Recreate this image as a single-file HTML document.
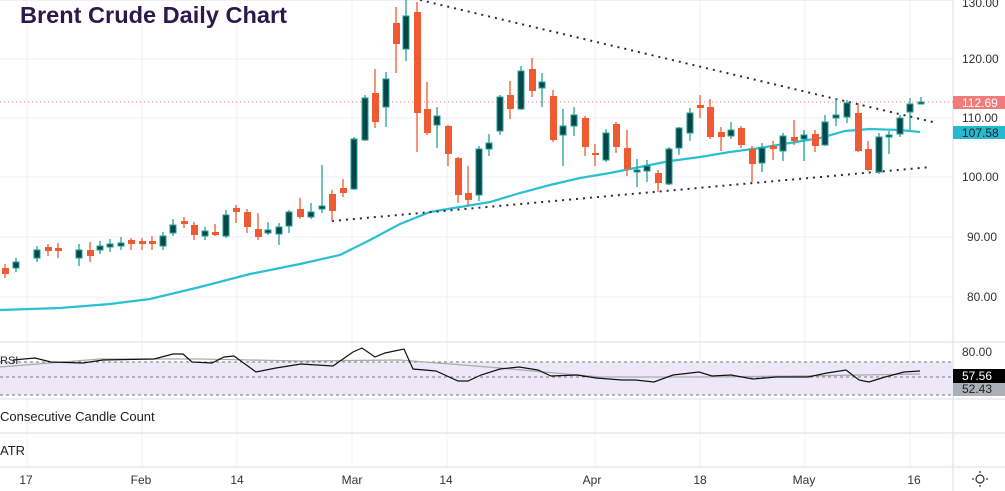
<!DOCTYPE html>
<html><head><meta charset="utf-8"><style>
html,body{margin:0;padding:0;background:#fff;}
svg{display:block;font-family:"Liberation Sans",sans-serif;}
.r{fill:#ee5a31;}
.rw{stroke:#ee5a31;stroke-width:1.3}
.g{fill:#07474b;stroke:#22a095;stroke-width:1}
.gw{stroke:#22a095;stroke-width:1.3}
.ax{font-size:12px;fill:#333;}
</style></head><body>
<svg width="1005" height="491" viewBox="0 0 1005 491">
<!-- grid -->
<g stroke="#eef0f5" stroke-width="1">
<line x1="0" y1="0.5" x2="953" y2="0.5"/>
<line x1="0" y1="59" x2="953" y2="59"/><line x1="0" y1="118" x2="953" y2="118"/>
<line x1="0" y1="177" x2="953" y2="177"/><line x1="0" y1="237" x2="953" y2="237"/>
<line x1="0" y1="297" x2="953" y2="297"/>
<line x1="27" y1="0" x2="27" y2="467"/><line x1="142" y1="0" x2="142" y2="467"/>
<line x1="237" y1="0" x2="237" y2="467"/><line x1="352" y1="0" x2="352" y2="467"/>
<line x1="447" y1="0" x2="447" y2="467"/><line x1="595" y1="0" x2="595" y2="467"/>
<line x1="700" y1="0" x2="700" y2="467"/><line x1="805" y1="0" x2="805" y2="467"/>
<line x1="910" y1="0" x2="910" y2="467"/>
</g>
<!-- pane separators -->
<g stroke="#e0e3eb" stroke-width="1.2">
<line x1="0" y1="342" x2="1005" y2="342"/><line x1="0" y1="399" x2="1005" y2="399"/>
<line x1="0" y1="433" x2="1005" y2="433"/><line x1="0" y1="467" x2="1005" y2="467"/>
<line x1="953" y1="0" x2="953" y2="491"/>
</g>
<!-- last price line -->
<line x1="0" y1="102" x2="953" y2="102" stroke="#f07b7b" stroke-width="1" stroke-dasharray="1,3"/>
<!-- MA -->
<polyline fill="none" stroke="#2bbfd2" stroke-width="2.2" points="0,310 60,308 110,304 150,299 200,287 250,274 300,264 340,255 370,240 400,224 430,212 460,207 490,202 520,193 550,185 580,178 610,173 640,167 670,161 700,157 730,152 760,148 790,143 820,138 845,131 870,129 900,130 920,132"/>
<!-- trend lines -->
<line x1="420" y1="0" x2="937" y2="123" stroke="#2a2a44" stroke-width="2" stroke-dasharray="2,5"/>
<line x1="332" y1="221" x2="931" y2="167" stroke="#2a2a44" stroke-width="2" stroke-dasharray="2,5"/>
<!-- candles -->
<g>
<line class="rw" x1="5" y1="264" x2="5" y2="278"/><rect class="r" x="2" y="268" width="7" height="6"/>
<line class="gw" x1="16" y1="258" x2="16" y2="272"/><rect class="g" x="13" y="262" width="6" height="6"/>
<line class="gw" x1="37" y1="246" x2="37" y2="262"/><rect class="g" x="34" y="250" width="6" height="8"/>
<line class="rw" x1="48" y1="244" x2="48" y2="256"/><rect class="r" x="45" y="247" width="7" height="4"/>
<line class="rw" x1="58" y1="243" x2="58" y2="258"/><rect class="r" x="55" y="248" width="7" height="3"/>
<line class="gw" x1="79" y1="244" x2="79" y2="266"/><rect class="g" x="76" y="250" width="6" height="8"/>
<line class="rw" x1="90" y1="242" x2="90" y2="262"/><rect class="r" x="87" y="250" width="7" height="6"/>
<line class="gw" x1="100" y1="241" x2="100" y2="254"/><rect class="g" x="97" y="246" width="6" height="4"/>
<line class="gw" x1="110" y1="239" x2="110" y2="252"/><rect class="g" x="107" y="244" width="6" height="3"/>
<line class="gw" x1="121" y1="237" x2="121" y2="250"/><rect class="g" x="118" y="243" width="6" height="3"/>
<line class="rw" x1="131" y1="238" x2="131" y2="250"/><rect class="r" x="128" y="240" width="7" height="4"/>
<line class="rw" x1="142" y1="238" x2="142" y2="250"/><rect class="r" x="139" y="241" width="7" height="3"/>
<line class="rw" x1="152" y1="236" x2="152" y2="250"/><rect class="r" x="149" y="241" width="7" height="3"/>
<line class="gw" x1="163" y1="232" x2="163" y2="250"/><rect class="g" x="160" y="236" width="6" height="10"/>
<line class="gw" x1="173" y1="219" x2="173" y2="236"/><rect class="g" x="170" y="225" width="6" height="8"/>
<line class="rw" x1="184" y1="217" x2="184" y2="228"/><rect class="r" x="181" y="221" width="7" height="3"/>
<line class="rw" x1="194" y1="222" x2="194" y2="240"/><rect class="r" x="191" y="225" width="7" height="10"/>
<line class="gw" x1="205" y1="227" x2="205" y2="240"/><rect class="g" x="202" y="231" width="6" height="5"/>
<line class="rw" x1="215" y1="224" x2="215" y2="236"/><rect class="r" x="212" y="232" width="7" height="3"/>
<line class="gw" x1="226" y1="210" x2="226" y2="238"/><rect class="g" x="223" y="215" width="6" height="21"/>
<line class="rw" x1="236" y1="205" x2="236" y2="223"/><rect class="r" x="233" y="208" width="7" height="4"/>
<line class="rw" x1="247" y1="209" x2="247" y2="233"/><rect class="r" x="244" y="212" width="7" height="15"/>
<line class="rw" x1="258" y1="213" x2="258" y2="240"/><rect class="r" x="255" y="229" width="7" height="8"/>
<line class="gw" x1="268" y1="222" x2="268" y2="235"/><rect class="g" x="265" y="230" width="6" height="3"/>
<line class="gw" x1="279" y1="223" x2="279" y2="245"/><rect class="g" x="276" y="227" width="6" height="7"/>
<line class="gw" x1="289" y1="210" x2="289" y2="233"/><rect class="g" x="286" y="212" width="6" height="14"/>
<line class="rw" x1="300" y1="198" x2="300" y2="219"/><rect class="r" x="297" y="209" width="7" height="8"/>
<line class="gw" x1="311" y1="203" x2="311" y2="219"/><rect class="g" x="308" y="212" width="6" height="5"/>
<line class="gw" x1="322" y1="165" x2="322" y2="213"/><rect class="g" x="319" y="206" width="6" height="3"/>
<line class="rw" x1="332" y1="190" x2="332" y2="221"/><rect class="r" x="329" y="194" width="7" height="17"/>
<line class="rw" x1="343" y1="179" x2="343" y2="197"/><rect class="r" x="340" y="188" width="7" height="5"/>
<line class="gw" x1="354" y1="137" x2="354" y2="190"/><rect class="g" x="351" y="139" width="6" height="50"/>
<line class="gw" x1="365" y1="95" x2="365" y2="141"/><rect class="g" x="362" y="98" width="6" height="42"/>
<line class="rw" x1="375" y1="69" x2="375" y2="128"/><rect class="r" x="372" y="93" width="7" height="29"/>
<line class="gw" x1="386" y1="72" x2="386" y2="127"/><rect class="g" x="383" y="79" width="6" height="28"/>
<line class="rw" x1="396" y1="7" x2="396" y2="73"/><rect class="r" x="393" y="23" width="7" height="21"/>
<line class="gw" x1="406" y1="0" x2="406" y2="61"/><rect class="g" x="403" y="16" width="6" height="33"/>
<line class="rw" x1="417" y1="2" x2="417" y2="152"/><rect class="r" x="414" y="12" width="7" height="101"/>
<line class="rw" x1="427" y1="82" x2="427" y2="135"/><rect class="r" x="424" y="109" width="7" height="24"/>
<line class="gw" x1="437" y1="107" x2="437" y2="148"/><rect class="g" x="434" y="116" width="6" height="9"/>
<line class="rw" x1="448" y1="125" x2="448" y2="166"/><rect class="r" x="445" y="126" width="7" height="28"/>
<line class="rw" x1="458" y1="157" x2="458" y2="203"/><rect class="r" x="455" y="158" width="7" height="37"/>
<line class="rw" x1="468" y1="166" x2="468" y2="206"/><rect class="r" x="465" y="193" width="7" height="7"/>
<line class="gw" x1="479" y1="146" x2="479" y2="201"/><rect class="g" x="476" y="149" width="6" height="46"/>
<line class="gw" x1="489" y1="134" x2="489" y2="156"/><rect class="g" x="486" y="143" width="6" height="6"/>
<line class="gw" x1="500" y1="95" x2="500" y2="135"/><rect class="g" x="497" y="97" width="6" height="34"/>
<line class="rw" x1="510" y1="81" x2="510" y2="119"/><rect class="r" x="507" y="95" width="7" height="14"/>
<line class="gw" x1="521" y1="66" x2="521" y2="110"/><rect class="g" x="518" y="71" width="6" height="38"/>
<line class="rw" x1="532" y1="58" x2="532" y2="97"/><rect class="r" x="529" y="69" width="7" height="22"/>
<line class="gw" x1="542" y1="73" x2="542" y2="107"/><rect class="g" x="539" y="82" width="6" height="6"/>
<line class="rw" x1="553" y1="90" x2="553" y2="142"/><rect class="r" x="550" y="96" width="7" height="44"/>
<line class="gw" x1="563" y1="109" x2="563" y2="166"/><rect class="g" x="560" y="126" width="6" height="9"/>
<line class="gw" x1="574" y1="107" x2="574" y2="136"/><rect class="g" x="571" y="115" width="6" height="11"/>
<line class="rw" x1="585" y1="116" x2="585" y2="156"/><rect class="r" x="582" y="118" width="7" height="29"/>
<line class="rw" x1="595" y1="144" x2="595" y2="166"/><rect class="r" x="592" y="153" width="7" height="2"/>
<line class="gw" x1="606" y1="129" x2="606" y2="162"/><rect class="g" x="603" y="133" width="6" height="27"/>
<line class="rw" x1="616" y1="122" x2="616" y2="153"/><rect class="r" x="613" y="124" width="7" height="23"/>
<line class="rw" x1="627" y1="130" x2="627" y2="176"/><rect class="r" x="624" y="148" width="7" height="21"/>
<line class="gw" x1="637" y1="159" x2="637" y2="187"/><rect class="g" x="634" y="170" width="6" height="2"/>
<line class="gw" x1="647" y1="160" x2="647" y2="182"/><rect class="g" x="644" y="166" width="6" height="5"/>
<line class="rw" x1="658" y1="170" x2="658" y2="192"/><rect class="r" x="655" y="173" width="7" height="10"/>
<line class="gw" x1="669" y1="147" x2="669" y2="185"/><rect class="g" x="666" y="149" width="6" height="35"/>
<line class="gw" x1="679" y1="127" x2="679" y2="155"/><rect class="g" x="676" y="128" width="6" height="20"/>
<line class="gw" x1="690" y1="108" x2="690" y2="141"/><rect class="g" x="687" y="113" width="6" height="20"/>
<line class="rw" x1="700" y1="95" x2="700" y2="118"/><rect class="r" x="697" y="105" width="7" height="3"/>
<line class="rw" x1="710" y1="99" x2="710" y2="139"/><rect class="r" x="707" y="107" width="7" height="30"/>
<line class="rw" x1="721" y1="127" x2="721" y2="151"/><rect class="r" x="718" y="132" width="7" height="5"/>
<line class="gw" x1="731" y1="122" x2="731" y2="139"/><rect class="g" x="728" y="130" width="6" height="6"/>
<line class="rw" x1="741" y1="126" x2="741" y2="148"/><rect class="r" x="738" y="128" width="7" height="17"/>
<line class="rw" x1="752" y1="146" x2="752" y2="182"/><rect class="r" x="749" y="149" width="7" height="15"/>
<line class="gw" x1="762" y1="143" x2="762" y2="172"/><rect class="g" x="759" y="148" width="6" height="15"/>
<line class="rw" x1="773" y1="141" x2="773" y2="160"/><rect class="r" x="770" y="146" width="7" height="3"/>
<line class="gw" x1="783" y1="133" x2="783" y2="161"/><rect class="g" x="780" y="136" width="6" height="15"/>
<line class="rw" x1="794" y1="120" x2="794" y2="145"/><rect class="r" x="791" y="137" width="7" height="4"/>
<line class="gw" x1="804" y1="130" x2="804" y2="161"/><rect class="g" x="801" y="135" width="6" height="4"/>
<line class="rw" x1="815" y1="130" x2="815" y2="152"/><rect class="r" x="812" y="134" width="7" height="12"/>
<line class="gw" x1="825" y1="115" x2="825" y2="146"/><rect class="g" x="822" y="122" width="6" height="23"/>
<line class="gw" x1="836" y1="98" x2="836" y2="126"/><rect class="g" x="833" y="115" width="6" height="3"/>
<line class="gw" x1="847" y1="100" x2="847" y2="123"/><rect class="g" x="844" y="103" width="6" height="14"/>
<line class="rw" x1="858" y1="103" x2="858" y2="152"/><rect class="r" x="855" y="113" width="7" height="38"/>
<line class="rw" x1="868" y1="141" x2="868" y2="171"/><rect class="r" x="865" y="149" width="7" height="21"/>
<line class="gw" x1="879" y1="133" x2="879" y2="174"/><rect class="g" x="876" y="137" width="6" height="35"/>
<line class="gw" x1="889" y1="131" x2="889" y2="154"/><rect class="g" x="886" y="135" width="6" height="2"/>
<line class="gw" x1="900" y1="115" x2="900" y2="137"/><rect class="g" x="897" y="118" width="6" height="16"/>
<line class="gw" x1="910" y1="98" x2="910" y2="130"/><rect class="g" x="907" y="104" width="6" height="8"/>
<line class="gw" x1="921" y1="97" x2="921" y2="103"/><rect class="g" x="918" y="102" width="6" height="2"/>
</g>
<!-- title -->
<text x="20" y="23" font-size="23" font-weight="bold" fill="#2a1a4c" textLength="267" lengthAdjust="spacingAndGlyphs">Brent Crude Daily Chart</text>
<!-- price axis -->
<g class="ax">
<text x="962" y="7">130.00</text>
<text x="962" y="63">120.00</text>
<text x="962" y="122">110.00</text>
<text x="962" y="181">100.00</text>
<text x="967" y="241">90.00</text>
<text x="967" y="301">80.00</text>
</g>
<rect x="953" y="96" width="52" height="13" fill="#f07b7b"/>
<text x="962" y="107" font-size="12" fill="#fff">112.69</text>
<rect x="953" y="126" width="52" height="13" fill="#26b8d0"/>
<text x="962" y="137" font-size="12" fill="#222">107.58</text>
<!-- RSI pane -->
<rect x="0" y="362" width="953" height="33" fill="#ede8f8"/>
<g stroke="#777" stroke-width="1" stroke-dasharray="3,3">
<line x1="0" y1="362" x2="953" y2="362"/><line x1="0" y1="377" x2="953" y2="377"/><line x1="0" y1="395" x2="953" y2="395"/>
</g>
<polyline fill="none" stroke="#aaa" stroke-width="1.3" points="0,367 100,359 200,359 300,361 400,360 500,368 600,377 700,377 800,376 920,374"/>
<polyline fill="none" stroke="#111" stroke-width="1.2" points="13,360 35,358 51,362 83,363 103,360 154,359 173,354 183,354 192,362 212,363 224,357 234,356 256,372 276,368 301,364 333,366 353,352 362,348 375,357 385,353 404,349 413,369 436,371 458,381 468,381 481,375 500,369 519,367 538,370 551,376 577,375 596,378 622,380 635,380 654,382 673,375 699,372 712,376 731,375 753,379 776,377 808,377 827,373 846,370 859,380 869,382 885,377 904,372 920,371"/>
<text x="0" y="364" font-size="11" fill="#222">RSI</text>
<text x="962" y="356" font-size="12" fill="#333">80.00</text>
<rect x="953" y="369" width="52" height="14" fill="#000"/>
<text x="962" y="380" font-size="12" fill="#fff">57.56</text>
<rect x="953" y="383" width="52" height="13" fill="#aab0b8"/>
<text x="962" y="393" font-size="12" fill="#222">52.43</text>
<text x="0" y="421" font-size="13" fill="#222">Consecutive Candle Count</text>
<text x="0" y="455" font-size="13" fill="#222">ATR</text>
<!-- time axis -->
<g class="ax" text-anchor="middle">
<text x="26" y="484">17</text><text x="141" y="484">Feb</text><text x="237" y="484">14</text>
<text x="352" y="484">Mar</text><text x="446" y="484">14</text><text x="592" y="484">Apr</text>
<text x="700" y="484">18</text><text x="804" y="484">May</text><text x="914" y="484">16</text>
</g>
<g stroke="#333" stroke-width="1.2" fill="none">
<circle cx="980" cy="479" r="4"/>
<line x1="980" y1="471" x2="980" y2="473"/><line x1="980" y1="485" x2="980" y2="487"/>
<line x1="972" y1="479" x2="974" y2="479"/><line x1="986" y1="479" x2="988" y2="479"/>
</g>
</svg>
</body></html>
